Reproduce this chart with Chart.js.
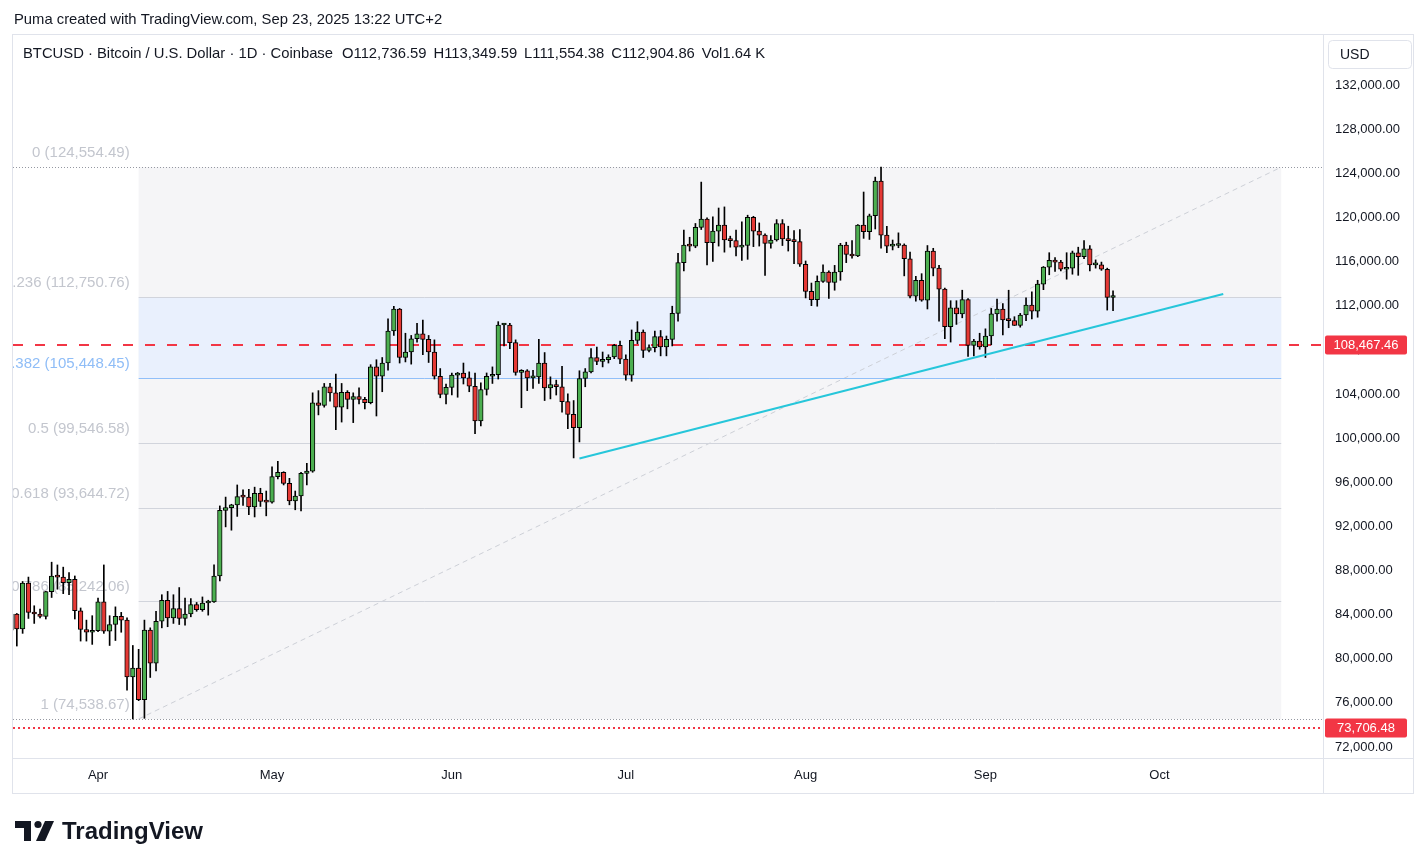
<!DOCTYPE html>
<html lang="en">
<head>
  <meta charset="UTF-8">
  <title>BTCUSD daily</title>
  <script src="https://cdn.jsdelivr.net/npm/chart.js@4.4.1/dist/chart.umd.min.js"></script>
  <style>
    html, body { margin: 0; padding: 0; background: #fff; }
  </style>
</head>
<body>
  <canvas id="btc" width="1426" height="868"></canvas>

  <script>
    // daily candles, Coinbase BTCUSD
    const dates = [
      '03-17','03-18','03-19','03-20','03-21','03-22','03-23','03-24','03-25','03-26','03-27','03-28','03-29','03-30','03-31',
      '04-01','04-02','04-03','04-04','04-05','04-06','04-07','04-08','04-09','04-10','04-11','04-12','04-13','04-14','04-15',
      '04-16','04-17','04-18','04-19','04-20','04-21','04-22','04-23','04-24','04-25','04-26','04-27','04-28','04-29','04-30',
      '05-01','05-02','05-03','05-04','05-05','05-06','05-07','05-08','05-09','05-10','05-11','05-12','05-13','05-14','05-15',
      '05-16','05-17','05-18','05-19','05-20','05-21','05-22','05-23','05-24','05-25','05-26','05-27','05-28','05-29','05-30','05-31',
      '06-01','06-02','06-03','06-04','06-05','06-06','06-07','06-08','06-09','06-10','06-11','06-12','06-13','06-14','06-15',
      '06-16','06-17','06-18','06-19','06-20','06-21','06-22','06-23','06-24','06-25','06-26','06-27','06-28','06-29','06-30',
      '07-01','07-02','07-03','07-04','07-05','07-06','07-07','07-08','07-09','07-10','07-11','07-12','07-13','07-14','07-15',
      '07-16','07-17','07-18','07-19','07-20','07-21','07-22','07-23','07-24','07-25','07-26','07-27','07-28','07-29','07-30','07-31',
      '08-01','08-02','08-03','08-04','08-05','08-06','08-07','08-08','08-09','08-10','08-11','08-12','08-13','08-14','08-15',
      '08-16','08-17','08-18','08-19','08-20','08-21','08-22','08-23','08-24','08-25','08-26','08-27','08-28','08-29','08-30','08-31',
      '09-01','09-02','09-03','09-04','09-05','09-06','09-07','09-08','09-09','09-10','09-11','09-12','09-13','09-14','09-15',
      '09-16','09-17','09-18','09-19','09-20','09-21','09-22','09-23'
    ];
    const opens = [
      82580, 84050, 82700, 86850, 84200, 84050, 83830, 86080, 87500, 87400, 86900, 87200, 84350, 82650, 82400,
      82550, 85150, 82500, 83100, 83850, 83500, 78350, 79150, 76300, 82600, 79600, 83400, 85300, 83700, 84550,
      83650, 84050, 84900, 84450, 85050, 85150, 87500, 93450, 93700, 93950, 94700, 94650, 93750, 95000, 94250,
      94200, 96500, 96900, 95900, 94300, 94750, 96800, 97000, 103200, 102950, 104650, 104100, 102800, 104150, 103500,
      103750, 103500, 103200, 106450, 105600, 106800, 109700, 111700, 107300, 107800, 109000, 109450, 108950, 107800, 105600, 103950,
      104600, 105700, 105900, 105450, 104700, 101550, 104400, 105600, 105750, 110250, 110250, 108650, 105950, 106100, 105450,
      105550, 106800, 104550, 104850, 104650, 103300, 102150, 100950, 105400, 106000, 107300, 106950, 107100, 107350, 108400,
      107150, 105700, 108850, 109600, 107950, 108200, 109200, 108250, 108950, 111300, 115900, 117500, 117400, 119100, 119850,
      117700, 118750, 119300, 117950, 117900, 117300, 117450, 120000, 118750, 118400, 117650, 117950, 119450, 118050, 117900, 117800,
      115750, 113300, 112550, 114200, 115050, 114100, 115050, 117500, 116650, 116500, 119300, 118700, 120150, 123300, 118400,
      117400, 117450, 117500, 116250, 112850, 114300, 112500, 116950, 115400, 113500, 110100, 111800, 111250, 112550, 108400, 108800,
      108250, 109250, 111250, 111700, 110700, 110650, 110200, 111150, 112050, 111500, 113950, 115500, 116100, 115950, 115300,
      115400, 116800, 116450, 117150, 115700, 115700, 115300, 112736.59
    ];
    const highs = [
      84750, 84100, 87000, 87400, 84800, 84500, 86100, 88750, 88500, 88300, 87800, 87500, 84600, 83500, 83900,
      85500, 88500, 83900, 84700, 84200, 83700, 81200, 80850, 83500, 82800, 84300, 85800, 86100, 85800, 86450,
      85500, 85450, 85100, 85600, 85300, 88500, 93850, 94650, 94000, 95750, 95300, 95350, 95550, 95450, 95200,
      97400, 97900, 96950, 96350, 95200, 96900, 97700, 104100, 104300, 104950, 104950, 105800, 104950, 104300, 104100,
      104550, 103700, 106650, 107100, 107300, 110800, 111950, 111750, 109500, 109300, 110400, 110700, 109300, 108900, 106300, 104900,
      105900, 105950, 106800, 106000, 105900, 105000, 105900, 106450, 110550, 110400, 110400, 108900, 106200, 106200, 106150,
      108950, 107750, 105550, 105250, 106500, 104000, 103400, 106100, 106300, 108100, 108250, 107800, 107550, 108500, 108800,
      107550, 109800, 110550, 109800, 108450, 109700, 109750, 109250, 111950, 116750, 118850, 118200, 119450, 123200, 119950,
      120050, 120850, 120950, 118300, 118850, 119600, 120200, 120100, 119500, 118500, 118350, 119800, 119800, 119200, 118800, 118900,
      116050, 114050, 114700, 115700, 115150, 115650, 117650, 117750, 117900, 119350, 122300, 120300, 123650, 124550, 119200,
      117950, 118600, 117600, 116850, 114650, 114900, 117450, 117200, 115650, 113600, 112450, 112450, 113400, 112650, 108950, 109500,
      109900, 111750, 112600, 112200, 113400, 111000, 111300, 112700, 113250, 114300, 115550, 116800, 116350, 116100, 116800,
      116950, 117300, 117900, 117450, 116150, 115950, 115400, 113349.59
    ];
    const lows = [
      82450, 81150, 82300, 83650, 83200, 83700, 83600, 85550, 86300, 85900, 85800, 83600, 81600, 81600, 81300,
      82450, 82300, 81200, 81650, 82400, 77150, 74540, 76200, 74600, 78300, 78900, 82800, 82900, 83200, 83100,
      83050, 83800, 84300, 84300, 83950, 85100, 87050, 91950, 91650, 92900, 93900, 93050, 92850, 93800, 92950,
      94100, 96300, 95750, 93950, 93500, 93400, 95750, 96900, 102100, 102800, 103350, 100750, 101450, 102650, 101400,
      103100, 102650, 103100, 102000, 104200, 106150, 109300, 106800, 106900, 106700, 108700, 107550, 106850, 105350, 103650, 103100,
      103900, 103700, 104900, 104200, 100400, 101100, 103900, 104950, 105350, 108350, 108100, 105700, 102750, 104300, 104500,
      104950, 103400, 103550, 103900, 102350, 100850, 98200, 99650, 104650, 105900, 106650, 106450, 106800, 107200, 106750,
      105250, 105150, 108550, 107300, 107800, 107800, 107450, 107450, 108350, 110600, 115150, 116950, 117250, 118900, 115700,
      116000, 117400, 116850, 117300, 116500, 116100, 116200, 117350, 117400, 114750, 117200, 117850, 117450, 116950, 115800, 115550,
      112700, 112000, 111950, 114100, 112650, 113400, 114300, 115900, 116300, 116450, 118100, 118000, 118950, 117200, 116800,
      117050, 117250, 114700, 112700, 112400, 112400, 111700, 114700, 110600, 109000, 108700, 110300, 110900, 107400, 107450, 108050,
      107300, 108450, 110600, 109350, 110000, 110200, 110050, 110650, 110800, 110950, 113450, 114800, 115100, 115150, 114400,
      114850, 114750, 116250, 115150, 115400, 115200, 111600, 111554.38
    ];
    const closes = [
      84050, 82700, 86850, 84200, 84050, 83830, 86080, 87500, 87400, 86900, 87200, 84350, 82650, 82400, 82550,
      85150, 82500, 83100, 83850, 83500, 78350, 79150, 76300, 82600, 79600, 83400, 85300, 83700, 84550, 83650,
      84050, 84900, 84450, 85050, 85150, 87500, 93450, 93700, 93950, 94700, 94650, 93750, 95000, 94250, 94200,
      96500, 96900, 95900, 94300, 94750, 96800, 97000, 103200, 102950, 104650, 104100, 102800, 104150, 103500, 103750,
      103500, 103200, 106450, 105600, 106800, 109700, 111700, 107300, 107800, 109000, 109450, 108950, 107800, 105600, 103950, 104600,
      105700, 105900, 105450, 104700, 101550, 104400, 105600, 105750, 110250, 110250, 108650, 105950, 106100, 105450, 105550,
      106800, 104550, 104850, 104650, 103300, 102150, 100950, 105400, 106000, 107300, 106950, 107100, 107350, 108400, 107150,
      105700, 108850, 109600, 107950, 108200, 109200, 108250, 108950, 111300, 115900, 117500, 117400, 119100, 119850, 117700,
      118750, 119300, 117950, 117900, 117300, 117450, 120000, 118750, 118400, 117650, 117950, 119450, 118050, 117900, 117800, 115750,
      113300, 112550, 114200, 115050, 114100, 115050, 117500, 116650, 116500, 119300, 118700, 120150, 123300, 118400, 117400,
      117450, 117500, 116250, 112850, 114300, 112500, 116950, 115400, 113500, 110100, 111800, 111250, 112550, 108400, 108800, 108250,
      109250, 111250, 111700, 110700, 110650, 110200, 111150, 112050, 111500, 113950, 115500, 116100, 115950, 115300, 115400,
      116800, 116450, 117150, 115700, 115700, 115300, 112750, 112904.86
    ];

    // axis
    const monthStarts = ['04-01', '05-01', '06-01', '07-01', '08-01', '09-01', '10-01'];
    const monthNames = ['Apr', 'May', 'Jun', 'Jul', 'Aug', 'Sep', 'Oct'];
    const priceTicks = [72000, 76000, 80000, 84000, 88000, 92000, 96000, 100000, 104000, 108000, 112000, 116000, 120000, 124000, 128000, 132000];

    // drawings on the chart
    const fibRatios = ['0', '0.236', '0.382', '0.5', '0.618', '0.786', '1'];
    const fibPrices = [124554.49, 112750.76, 105448.45, 99546.58, 93644.72, 85242.06, 74538.67];
    const fibFrom = '04-08', fibTo = '10-22';
    const trendFrom = ['06-23', 98150], trendTo = ['10-12', 113050];
    const redLine = 108467.46, redDotted = 73706.48;

    const UP = '#4caf50', DOWN = '#e53935', INK = '#131722', FRAME = '#e0e3eb';
    const FONT = '"Liberation Sans", Arial, sans-serif';

    const DAY = 86400000;
    const origin = Date.UTC(2025, 3, 1);
    const toDay = s => (Date.parse('2025-' + s + 'T00:00:00Z') - origin) / DAY;
    const days = dates.map(toDay);
    const monthDays = monthStarts.map(toDay);
    const money = v => v.toLocaleString('en-US', { minimumFractionDigits: 2, maximumFractionDigits: 2 });

    function priceTag(ctx, y, text) {
      ctx.fillStyle = '#f23645';
      ctx.beginPath();
      ctx.roundRect(1325, y - 9.5, 82, 19, 2);
      ctx.fill();
      ctx.fillStyle = '#fff';
      ctx.font = '13px ' + FONT;
      ctx.textAlign = 'center';
      ctx.textBaseline = 'middle';
      ctx.fillText(text, 1366, y + 0.5);
    }

    const drawings = {
      id: 'drawings',
      beforeDatasetsDraw(chart) {
        const { ctx, chartArea: a, scales: { x, y } } = chart;
        const x1 = x.getPixelForValue(toDay(fibFrom));
        const x2 = x.getPixelForValue(toDay(fibTo));
        const top = y.getPixelForValue(fibPrices[0]);
        const bot = y.getPixelForValue(fibPrices[6]);
        ctx.save();
        ctx.beginPath();
        ctx.rect(a.left, a.top, a.right - a.left, a.bottom - a.top);
        ctx.clip();

        ctx.fillStyle = '#f5f5f7';
        ctx.fillRect(x1, top, x2 - x1, bot - top);
        const b1 = y.getPixelForValue(fibPrices[1]), b2 = y.getPixelForValue(fibPrices[2]);
        ctx.fillStyle = '#e9f0fd';
        ctx.fillRect(x1, b1, x2 - x1, b2 - b1);

        // fib trend (dashed diagonal)
        ctx.strokeStyle = '#cdd0d7';
        ctx.lineWidth = 1;
        ctx.setLineDash([5, 4]);
        ctx.beginPath();
        ctx.moveTo(x1, bot);
        ctx.lineTo(x2, top);
        ctx.stroke();

        fibPrices.forEach((p, i) => {
          const yy = Math.round(y.getPixelForValue(p)) + 0.5;
          const blue = fibRatios[i] === '0.382';
          if (i === 0 || i === fibPrices.length - 1) {
            ctx.strokeStyle = '#9598a1';
            ctx.setLineDash([1, 2]);
            ctx.beginPath();
            ctx.moveTo(a.left, yy);
            ctx.lineTo(a.right, yy);
            ctx.stroke();
          } else {
            ctx.strokeStyle = blue ? '#90bff9' : '#d1d4dc';
            ctx.setLineDash([]);
            ctx.beginPath();
            ctx.moveTo(x1, yy);
            ctx.lineTo(x2, yy);
            ctx.stroke();
          }
          ctx.fillStyle = blue ? '#8fbdf7' : '#c3c6ce';
          ctx.font = '15px ' + FONT;
          ctx.textAlign = 'right';
          ctx.textBaseline = 'middle';
          ctx.fillText(fibRatios[i] + ' (' + money(p) + ')', x1 - 9, yy - 15);
        });

        // red horizontal lines
        ctx.strokeStyle = '#f23645';
        ctx.lineWidth = 2;
        ctx.setLineDash([10, 12]);
        let ry = Math.round(y.getPixelForValue(redLine));
        ctx.beginPath();
        ctx.moveTo(a.left, ry);
        ctx.lineTo(a.right, ry);
        ctx.stroke();
        ctx.setLineDash([2, 3]);
        ry = Math.round(y.getPixelForValue(redDotted));
        ctx.beginPath();
        ctx.moveTo(a.left, ry);
        ctx.lineTo(a.right, ry);
        ctx.stroke();
        ctx.restore();
      },
      afterDatasetsDraw(chart) {
        const { ctx, chartArea: a, scales: { x, y } } = chart;
        ctx.save();
        ctx.beginPath();
        ctx.rect(a.left, a.top, a.right - a.left, a.bottom - a.top);
        ctx.clip();
        ctx.strokeStyle = '#26c6da';
        ctx.lineWidth = 2;
        ctx.beginPath();
        ctx.moveTo(x.getPixelForValue(toDay(trendFrom[0])), y.getPixelForValue(trendFrom[1]));
        ctx.lineTo(x.getPixelForValue(toDay(trendTo[0])), y.getPixelForValue(trendTo[1]));
        ctx.stroke();
        ctx.restore();
      },
      afterDraw(chart) {
        const { ctx, chartArea: a, scales: { y } } = chart;
        ctx.save();
        // frame
        ctx.strokeStyle = FRAME;
        ctx.lineWidth = 1;
        ctx.strokeRect(12.5, 34.5, 1401, 759);
        ctx.beginPath();
        ctx.moveTo(a.right + 0.5, 35);
        ctx.lineTo(a.right + 0.5, 793);
        ctx.moveTo(13, a.bottom + 0.5);
        ctx.lineTo(1413, a.bottom + 0.5);
        ctx.stroke();

        // USD box
        ctx.beginPath();
        ctx.roundRect(1328.5, 40.5, 83, 28, 4);
        ctx.stroke();
        ctx.fillStyle = INK;
        ctx.font = '14px ' + FONT;
        ctx.textAlign = 'left';
        ctx.textBaseline = 'middle';
        ctx.fillText('USD', 1340, 55);

        priceTag(ctx, Math.round(y.getPixelForValue(redLine)), money(redLine));
        priceTag(ctx, Math.round(y.getPixelForValue(redDotted)), money(redDotted));

        // titles
        ctx.fillStyle = INK;
        ctx.font = '14.8px ' + FONT;
        ctx.textAlign = 'left';
        ctx.fillText('Puma created with TradingView.com, Sep 23, 2025 13:22 UTC+2', 14, 20);
        const head = 'BTCUSD \u00b7 Bitcoin / U.S. Dollar \u00b7 1D \u00b7 Coinbase';
        ctx.fillText(head, 23, 54);
        let hx = 23 + ctx.measureText(head).width + 9;
        const last = closes.length - 1;
        const legend = [['O', money(opens[last])], ['H', money(highs[last])], ['L', money(lows[last])], ['C', money(closes[last])], ['Vol', '1.64 K']];
        legend.forEach(([k, v]) => {
          ctx.fillText(k + v, hx, 54);
          hx += ctx.measureText(k + v).width + 7;
        });

        // TradingView mark
        ctx.fillStyle = INK;
        ctx.fillRect(15, 821, 16, 7);
        ctx.fillRect(24, 821, 7, 20);
        ctx.beginPath();
        ctx.arc(38, 824.5, 3.6, 0, Math.PI * 2);
        ctx.fill();
        ctx.beginPath();
        ctx.moveTo(45, 821);
        ctx.lineTo(54, 821);
        ctx.lineTo(45, 841);
        ctx.lineTo(36, 841);
        ctx.closePath();
        ctx.fill();
        ctx.font = 'bold 24px ' + FONT;
        ctx.textBaseline = 'alphabetic';
        ctx.fillText('TradingView', 62, 839);
        ctx.restore();
      }
    };

    const ctx = document.getElementById('btc').getContext('2d');
    const btcChart = new Chart(ctx, {
      type: 'bar',
      data: {
        datasets: [{
          label: 'body',
          data: days.map((d, i) => ({ x: d, y: [opens[i], closes[i]] })),
          backgroundColor: c => closes[c.dataIndex] >= opens[c.dataIndex] ? UP : DOWN,
          borderColor: '#000',
          borderWidth: 1,
          borderSkipped: false,
          barThickness: 4.6,
          minBarLength: 2,
          grouped: false
        }, {
          label: 'wick',
          data: days.map((d, i) => ({ x: d, y: [lows[i], highs[i]] })),
          backgroundColor: '#000',
          barThickness: 1,
          grouped: false
        }]
      },
      options: {
        responsive: false,
        animation: false,
        events: [],
        layout: { padding: { left: 13, top: 35, right: 13, bottom: 75 } },
        plugins: { legend: { display: false }, tooltip: { enabled: false } },
        scales: {
          x: {
            type: 'linear',
            offset: false,
            min: toDay('03-17') + 0.34,
            max: toDay('10-29') + 0.2,
            grid: { display: false, drawTicks: false, offset: false },
            border: { display: false },
            afterBuildTicks: s => { s.ticks = monthDays.map(v => ({ value: v })); },
            afterFit: s => { s.height = 35; },
            ticks: {
              autoSkip: false,
              maxRotation: 0,
              padding: 10,
              color: INK,
              font: { family: FONT, size: 13 },
              callback: v => monthNames[monthDays.indexOf(v)]
            }
          },
          y: {
            position: 'right',
            min: 71002,
            max: 136532,
            grid: { display: false, drawTicks: false },
            border: { display: false },
            afterBuildTicks: s => { s.ticks = priceTicks.map(v => ({ value: v })); },
            afterFit: s => { s.width = 90; },
            ticks: {
              padding: 12,
              color: INK,
              font: { family: FONT, size: 13 },
              callback: v => money(v)
            }
          }
        }
      },
      plugins: [drawings]
    });
  </script>
</body>
</html>
